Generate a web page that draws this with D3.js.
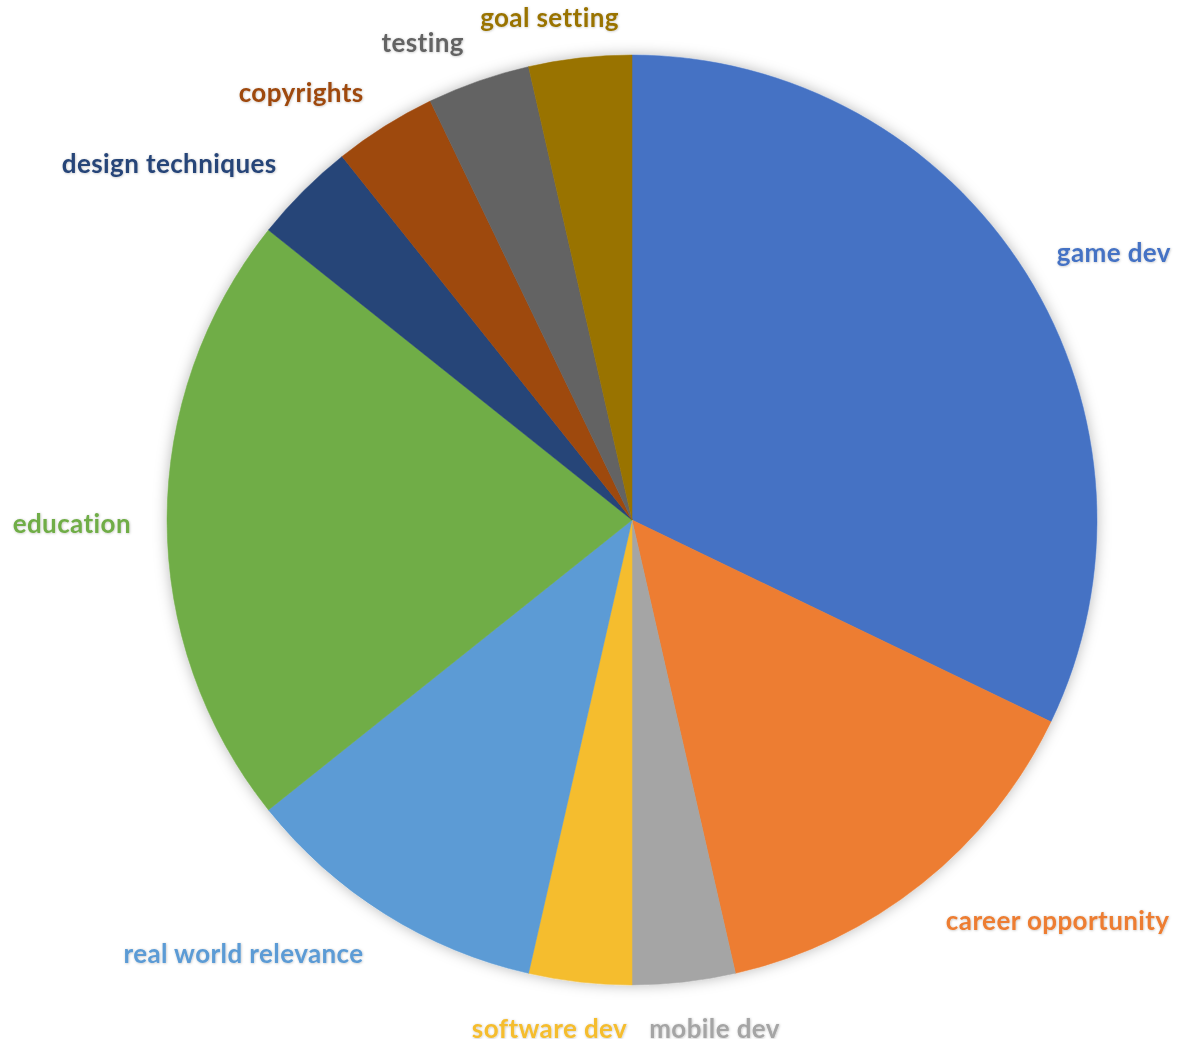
<!DOCTYPE html>
<html>
<head>
<meta charset="utf-8">
<script src="https://cdn.jsdelivr.net/npm/d3@7"></script>
<style>
  html, body { margin: 0; padding: 0; background: #ffffff; }
  svg { display: block; }
</style>
</head>
<body>
<svg id="chart" width="1178" height="1039"></svg>
<script>
const categories = ["game dev", "career opportunity", "mobile dev", "software dev", "real world relevance",
                    "education", "design techniques", "copyrights", "testing", "goal setting"];
const values = [9, 4, 1, 1, 3, 6, 1, 1, 1, 1];
const colors = ["#4472C4", "#ED7D31", "#A5A5A5", "#F5BD2F", "#5B9BD5",
                "#70AD47", "#264478", "#9E480E", "#636363", "#997300"];

const W = 1178, H = 1039;
const cx = 632, cy = 520, radius = 465, labelR = 497;

const svg = d3.select("#chart");
const defs = svg.append("defs");
const sh = defs.append("filter").attr("id", "pieShadow")
  .attr("x", "-10%").attr("y", "-10%").attr("width", "120%").attr("height", "120%");
sh.append("feDropShadow").attr("dx", 0).attr("dy", 0).attr("stdDeviation", 7)
  .attr("flood-color", "#000").attr("flood-opacity", 0.28);
const tsh = defs.append("filter").attr("id", "textShadow")
  .attr("x", "-10%").attr("y", "-30%").attr("width", "120%").attr("height", "160%");
tsh.append("feDropShadow").attr("dx", 0.5).attr("dy", 0.5).attr("stdDeviation", 0.8)
  .attr("flood-color", "#000").attr("flood-opacity", 0.25);

const color = d3.scaleOrdinal().domain(categories).range(colors);
const data = categories.map((c, i) => ({ name: c, value: values[i] }));
const pie = d3.pie().value(d => d.value).sort(null);
const arcs = pie(data);
const arc = d3.arc().innerRadius(0).outerRadius(radius);

const g = svg.append("g").attr("transform", `translate(${cx},${cy})`);
g.append("g").attr("filter", "url(#pieShadow)")
  .selectAll("path").data(arcs).join("path")
  .attr("d", arc)
  .attr("fill", d => color(d.data.name))
  .attr("stroke", d => color(d.data.name))
  .attr("stroke-width", 0.5);

// labels (outside end)
const K = 240, halfH = 12, pad = 4, shiftY = 2.5;
const labels = g.append("g").attr("filter", "url(#textShadow)")
  .selectAll("text").data(arcs).join("text")
  .attr("font-family", "Lato, 'Open Sans', sans-serif")
  .attr("font-weight", "bold")
  .attr("font-size", 26)
  .attr("letter-spacing", 0.4)
  .attr("fill", d => color(d.data.name))
  .attr("text-anchor", "middle")
  .attr("dominant-baseline", "central")
  .text(d => d.data.name);

labels.each(function(d) {
  const a = (d.startAngle + d.endAngle) / 2;
  const s = Math.sin(a), c = Math.cos(a);
  const w = this.getComputedTextLength();
  const px = labelR * s, py = -labelR * c;
  const raw = s * K;
  const off = Math.max(-w / 2, Math.min(w / 2, raw));
  const extra = Math.abs(raw) > w / 2 ? Math.sign(s) * pad : 0;
  d3.select(this).attr("x", px + off + extra).attr("y", py - c * halfH + shiftY);
});
</script>
</body>
</html>
